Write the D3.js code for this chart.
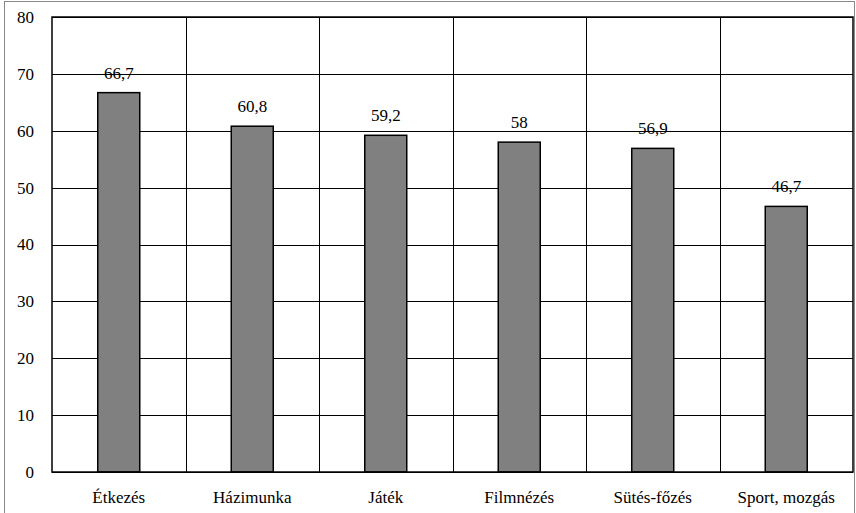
<!DOCTYPE html>
<html><head><meta charset="utf-8">
<script src="https://cdn.jsdelivr.net/npm/d3@7"></script>
</head><body style="margin:0">
<script>
const categories = ["Étkezés","Házimunka","Játék","Filmnézés","Sütés-főzés","Sport, mozgás"];
const values = [66.7,60.8,59.2,58,56.9,46.7];
const valueLabels = ["66,7","60,8","59,2","58","56,9","46,7"];
const yTicks = [0,10,20,30,40,50,60,70,80];

const W=856,H=513;
const FONT='Times New Roman';
const svg=d3.select("body").append("svg").attr("width",W).attr("height",H).style("display","block")
  .attr("font-family",FONT);
svg.append("rect").attr("x",4.5).attr("y",1.5).attr("width",850).attr("height",520)
  .attr("fill","none").attr("stroke","#888").attr("stroke-width",1);

const L=52,R=853,T=17,B=472;
const x=d3.scaleBand().domain(categories).range([L,R]).paddingInner(0).paddingOuter(0);
const y=d3.scaleLinear().domain([0,80]).range([B,T]);
const g=svg.append("g");
g.selectAll(".hg").data(yTicks).join("line")
 .attr("x1",L).attr("x2",R).attr("y1",d=>Math.round(y(d))+0.5).attr("y2",d=>Math.round(y(d))+0.5)
 .attr("stroke","#000").attr("stroke-width",1);
g.selectAll(".vg").data(categories.slice(1)).join("line")
 .attr("x1",d=>Math.round(x(d))+0.5).attr("x2",d=>Math.round(x(d))+0.5).attr("y1",T).attr("y2",B)
 .attr("stroke","#000").attr("stroke-width",1);
const bw=42;
g.selectAll(".bar").data(values).join("rect")
 .attr("x",(d,i)=>x(categories[i])+x.bandwidth()/2-bw/2)
 .attr("y",d=>y(d)).attr("width",bw).attr("height",d=>B-y(d))
 .attr("fill","#808080").attr("stroke","#000").attr("stroke-width",1.5);
svg.append("rect").attr("x",L).attr("y",T).attr("width",R-L).attr("height",B-T)
 .attr("fill","none").attr("stroke","#000").attr("stroke-width",1.5);
g.selectAll(".vl").data(values).join("text")
 .attr("x",(d,i)=>x(categories[i])+x.bandwidth()/2).attr("y",d=>y(d)-14)
 .attr("text-anchor","middle").attr("font-family",FONT).attr("font-size",17)
 .text((d,i)=>valueLabels[i]);
g.selectAll(".yl").data(yTicks).join("text")
 .attr("x",34).attr("y",d=>y(d)).attr("dy","0.35em").attr("text-anchor","end")
 .attr("font-family",FONT).attr("font-size",17).text(d=>d);
g.selectAll(".xl").data(categories).join("text")
 .attr("x",d=>x(d)+x.bandwidth()/2).attr("y",503).attr("text-anchor","middle")
 .attr("font-family",FONT).attr("font-size",17).text(d=>d);
</script>
</body></html>
